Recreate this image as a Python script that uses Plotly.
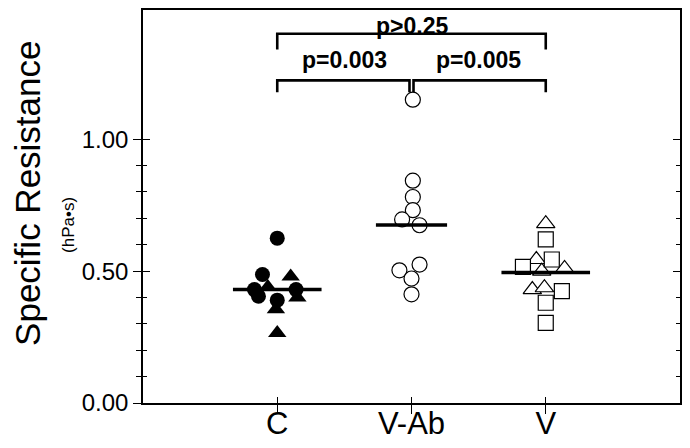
import plotly.graph_objects as go

# ---------------- data ----------------
categories = ["C", "V-Ab", "V"]

c_circles = [0.625, 0.487, 0.43, 0.405, 0.39, 0.43]
c_circles_jitter = [0.0, -0.11, -0.17, -0.14, 0.0, 0.14]
c_triangles = [0.48, 0.44, 0.40, 0.355, 0.265]
c_triangles_jitter = [0.10, -0.07, 0.15, -0.01, 0.0]

vab_circles = [1.15, 0.843, 0.781, 0.731, 0.696, 0.674, 0.503, 0.525, 0.472, 0.412]
vab_circles_jitter = [0.01, 0.01, 0.01, 0.01, -0.07, 0.06, -0.09, 0.06, 0.0, 0.0]

v_triangles = [0.68, 0.544, 0.51, 0.50, 0.43, 0.437]
v_triangles_jitter = [0.0, -0.07, 0.14, -0.03, -0.10, -0.01]
v_squares = [0.62, 0.544, 0.516, 0.424, 0.38, 0.304]
v_squares_jitter = [0.0, 0.045, -0.17, 0.12, 0.0, 0.0]

group_means = [0.43, 0.675, 0.495]

comparisons = [("C", "V", "p>0.25"), ("C", "V-Ab", "p=0.003"), ("V-Ab", "V", "p=0.005")]
bracket_levels = [1.40, 1.223, 1.223]

y_tickvals = [0.0, 0.5, 1.0]
y_ticktext = ["0.00", "0.50", "1.00"]
y_minor = [0.1, 0.2, 0.3, 0.4, 0.6, 0.7, 0.8, 0.9]

# ---------------- styles ----------------
FONT = "Liberation Sans, Arial, sans-serif"
mean_halfwidth = [0.33, 0.265, 0.33]
bracket_drop = [0.06, 0.045, 0.045]
bracket_gap = [0.0, 0.015, 0.015]
label_yshift = [8, 20, 20]

pos = {c: i + 1 for i, c in enumerate(categories)}

fig = go.Figure()


def add_points(group, values, jitter, symbol, filled, size):
    fig.add_trace(go.Scatter(
        x=[pos[group] + j for j in jitter], y=values, mode="markers",
        marker=dict(symbol=symbol, size=size,
                    color="black" if filled else "white",
                    line=dict(color="black", width=0 if filled else 1.2)),
        showlegend=False, hoverinfo="y"))


add_points("C", c_circles, c_circles_jitter, "circle", True, 15)
add_points("C", c_triangles, c_triangles_jitter, "triangle-up", True, 16)
add_points("V-Ab", vab_circles, vab_circles_jitter, "circle", False, 15)
add_points("V", v_triangles, v_triangles_jitter, "triangle-up", False, 16)
add_points("V", v_squares, v_squares_jitter, "square", False, 15)

# mean lines
for cat, m, hw in zip(categories, group_means, mean_halfwidth):
    fig.add_trace(go.Scatter(
        x=[pos[cat] - hw, pos[cat] + hw], y=[m, m], mode="lines",
        line=dict(color="black", width=3.5), showlegend=False, hoverinfo="skip"))

# brackets
for (a, b, txt), lvl, drop, gap, ys in zip(comparisons, bracket_levels, bracket_drop,
                                          bracket_gap, label_yshift):
    xa = pos[a] + (gap if a == "V-Ab" else 0)
    xb = pos[b] - (gap if b == "V-Ab" else 0)
    fig.add_trace(go.Scatter(
        x=[xa, xa, xb, xb], y=[lvl - drop, lvl, lvl, lvl - drop], mode="lines",
        line=dict(color="black", width=2.6), showlegend=False, hoverinfo="skip"))
    fig.add_annotation(x=(pos[a] + pos[b]) / 2, y=lvl, text=txt, showarrow=False,
                       yanchor="middle", yshift=ys,
                       font=dict(family=FONT, size=23, color="black", weight="bold"))

# dummy trace for the overlay axes (inside tick halves)
fig.add_trace(go.Scatter(x=[None], y=[None], xaxis="x2", yaxis="y2",
                         showlegend=False, hoverinfo="skip"))

yr = [0, 1.49]
xr = [0, 4]

fig.update_layout(
    template="none",
    width=682, height=440,
    margin=dict(l=135, r=10, t=2, b=45, pad=0),
    plot_bgcolor="white", paper_bgcolor="white",
    font=dict(family=FONT, color="black"),
    xaxis=dict(range=xr, tickvals=[1, 2, 3], ticktext=categories, automargin=False,
               ticks="outside", ticklen=9, tickwidth=1, tickcolor="black",
               ticklabelstandoff=-17,
               showline=True, linecolor="black", linewidth=1.5, mirror=True,
               showgrid=False, zeroline=False,
               tickfont=dict(family=FONT, size=31, color="black")),
    xaxis2=dict(range=xr, overlaying="x", tickvals=[1, 2, 3], showticklabels=False,
                automargin=False,
                ticks="inside", ticklen=6, tickwidth=1, tickcolor="black",
                showline=False, showgrid=False, zeroline=False),
    yaxis=dict(range=yr, tickvals=y_tickvals, ticktext=y_ticktext, automargin=False,
               ticks="outside", ticklen=8, tickwidth=1.2, tickcolor="black",
               minor=dict(tickvals=y_minor, ticks="outside", ticklen=5,
                          tickwidth=1.2, tickcolor="black", showgrid=False),
               showline=True, linecolor="black", linewidth=1.5, mirror="ticks",
               showgrid=False, zeroline=False,
               tickfont=dict(family=FONT, size=24, color="black")),
    yaxis2=dict(range=yr, overlaying="y", tickvals=y_tickvals, showticklabels=False,
                automargin=False,
                ticks="inside", ticklen=7, tickwidth=1.2, tickcolor="black",
                minor=dict(tickvals=y_minor, ticks="inside", ticklen=4,
                           tickwidth=1.2, tickcolor="black", showgrid=False),
                showline=False, mirror="ticks", showgrid=False, zeroline=False),
)

# y-axis title (two lines of different sizes)
fig.add_annotation(text="Specific Resistance", xref="paper", yref="paper",
                   x=0, y=0.532, xshift=-115, textangle=-90, showarrow=False,
                   xanchor="center", yanchor="middle",
                   font=dict(family=FONT, size=35, color="black"))
fig.add_annotation(text="(hPa•s)", xref="paper", yref="paper",
                   x=0, y=0.453, xshift=-74, textangle=-90, showarrow=False,
                   xanchor="center", yanchor="middle",
                   font=dict(family=FONT, size=17, color="black"))

fig.write_html("out.html")
